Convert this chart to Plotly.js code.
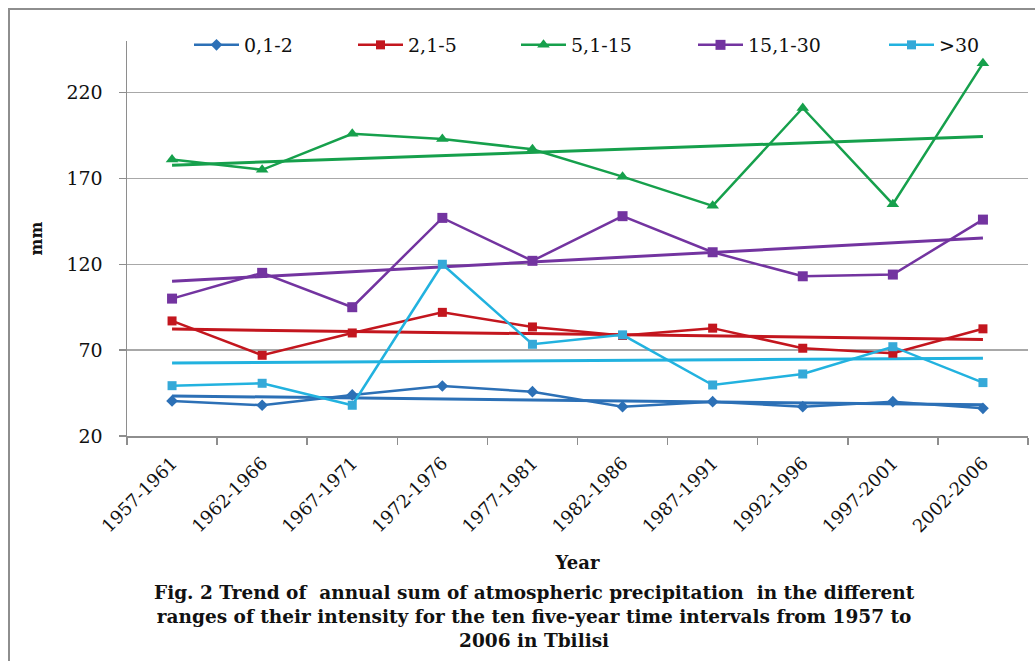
<!DOCTYPE html>
<html><head><meta charset="utf-8">
<script src="https://cdn.plot.ly/plotly-3.0.1.min.js"></script>
<style>
html,body{margin:0;padding:0;background:#fff;}
#wrap{position:relative;width:1035px;height:661px;overflow:hidden;}
#chart{position:absolute;left:0;top:0;width:1035px;height:661px;}
#frame{position:absolute;left:8px;top:8px;width:1100px;height:720px;border-left:2px solid #8e8e8e;border-top:2px solid #8e8e8e;box-sizing:border-box;pointer-events:none;}
</style></head><body>
<div id="wrap"><div id="chart"></div><div id="frame"></div></div>
<script>
// ---- data ----
const categories = ['1957-1961','1962-1966','1967-1971','1972-1976','1977-1981',
                    '1982-1986','1987-1991','1992-1996','1997-2001','2002-2006'];
const seriesNames = ['0,1-2','2,1-5','5,1-15','15,1-30','>30'];
const s_01_2   = [40.4, 37.9, 43.9, 49.1, 45.8, 37.1, 40.0, 37.1, 40.0, 36.1];
const s_21_5   = [87.0, 67.0, 80.0, 92.0, 83.5, 78.5, 82.8, 71.1, 68.2, 82.4];
const s_51_15  = [181, 175, 196, 193, 187, 171, 154, 211, 155, 237];
const s_151_30 = [100, 115, 95, 147, 122, 148, 127, 113, 114, 146];
const s_gt30   = [49.3, 50.7, 37.9, 120.0, 73.4, 78.9, 49.7, 56.1, 72.0, 51.1];
const yTicks = [20, 70, 120, 170, 220];

// ---- styles ----
const FONT = '"DejaVu Serif", "Liberation Serif", serif';
const colors = ['#2c70b6', '#c3161e', '#16a04c', '#7334a0', '#22b2df'];
const markerColors = ['#2c70b6', '#c3161e', '#16a04c', '#7334a0', '#35a9d8'];
const symbols = ['diamond', 'square', 'triangle-up', 'square', 'square'];
const msize = [9, 9, 11, 10, 9];
const allSeries = [s_01_2, s_21_5, s_51_15, s_151_30, s_gt30];
const legendIds = ['legend', 'legend2', 'legend3', 'legend4', 'legend5'];

// least-squares linear trend (as in the original spreadsheet trendlines)
function linearTrend(vals) {
  const n = vals.length;
  let sx = 0, sy = 0, sxx = 0, sxy = 0;
  vals.forEach((v, i) => { sx += i; sy += v; sxx += i * i; sxy += i * v; });
  const m = (n * sxy - sx * sy) / (n * sxx - sx * sx);
  const b = (sy - m * sx) / n;
  return vals.map((_, i) => b + m * i);
}

const traces = [];
allSeries.forEach((vals, k) => {
  traces.push({
    x: categories, y: linearTrend(vals), type: 'scatter', mode: 'lines',
    line: {color: colors[k], width: 3}, showlegend: false, hoverinfo: 'skip'
  });
});
allSeries.forEach((vals, k) => {
  traces.push({
    x: categories, y: vals, type: 'scatter', mode: 'lines+markers', name: seriesNames[k],
    line: {color: colors[k], width: 2.5},
    marker: {symbol: symbols[k], size: msize[k], color: markerColors[k], line: {width: 0}},
    legend: legendIds[k]
  });
});

const L = 127, R = 7, T = 41, B = 225, W = 1035, H = 661;
const pw = W - L - R, ph = H - T - B;
const px2x = p => (p - L) / pw;
const px2y = p => (H - B - p) / ph;

const legendStarts = [189, 353, 516, 693, 884];
const legendFont = {family: FONT, size: 19, color: '#111'};
const layout = {
  width: W, height: H,
  margin: {l: L, r: R, t: T, b: B, pad: 0},
  paper_bgcolor: '#ffffff', plot_bgcolor: '#ffffff',
  font: {family: FONT, color: '#111'},
  xaxis: {
    type: 'category', range: [-0.5, 9.5], tickson: 'boundaries',
    ticks: 'outside', ticklen: 7, tickwidth: 1.5, tickcolor: '#8e8e8e',
    showline: true, linecolor: '#8e8e8e', linewidth: 1.5,
    showgrid: false, zeroline: false, automargin: false,
    tickangle: -45, tickfont: {family: FONT, size: 18, color: '#111'}, ticklabelstandoff: 8,
    title: {text: '<b>Year</b>', font: {family: FONT, size: 18, color: '#111'}, standoff: 21}
  },
  yaxis: {
    range: [20, 250], tickvals: yTicks, ticktext: yTicks.map(String),
    ticks: 'outside', ticklen: 7, tickwidth: 1.5, tickcolor: '#8e8e8e',
    showline: true, linecolor: '#8e8e8e', linewidth: 1.5,
    showgrid: true, gridcolor: '#a8a8a8', gridwidth: 1.5, zeroline: false, automargin: false,
    tickfont: {family: FONT, size: 19, color: '#111'}, ticklabelstandoff: 12,
    title: {text: '<b>mm</b>', font: {family: FONT, size: 16, color: '#111'}, standoff: 20}
  },
  annotations: [{
    xref: 'paper', yref: 'paper', x: px2x(534), y: px2y(580),
    xanchor: 'center', yanchor: 'top', showarrow: false, align: 'center',
    text: '<b>Fig. 2 Trend of  annual sum of atmospheric precipitation  in the different<br>ranges of their intensity for the ten five-year time intervals from 1957 to<br>2006 in Tbilisi</b>',
    font: {family: FONT, size: 18.5, color: '#111'}
  }],
  hovermode: false
};
legendIds.forEach((id, k) => {
  layout[id] = {
    x: px2x(legendStarts[k]), y: px2y(45), xanchor: 'left', yanchor: 'middle',
    orientation: 'h', bgcolor: 'rgba(0,0,0,0)', borderwidth: 0,
    font: legendFont, itemwidth: 45
  };
});

Plotly.newPlot('chart', traces, layout, {displayModeBar: false, staticPlot: true});
</script>
</body></html>
